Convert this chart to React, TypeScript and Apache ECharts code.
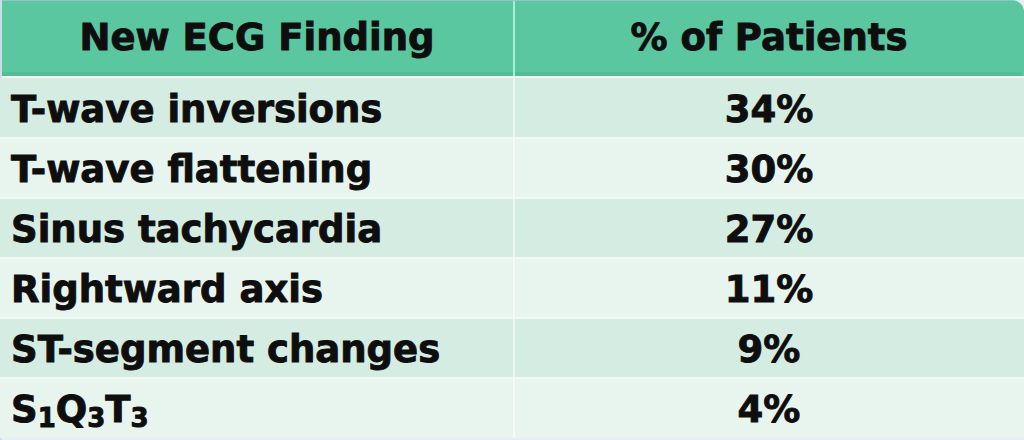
import React, { useEffect, useRef } from 'react';
import * as echarts from 'echarts';

const HEADERS = ['New ECG Finding', '% of Patients'];
const FINDINGS = [
  'T-wave inversions',
  'T-wave flattening',
  'Sinus tachycardia',
  'Rightward axis',
  'ST-segment changes',
  'S1Q3T3',
];
const PERCENTS = [34, 30, 27, 11, 9, 4];

const FONT = '"DejaVu Sans", Verdana, sans-serif';
const W = 1024;
const H = 440;
const HEADER_H = 76;
const COL_SPLIT = 514 / W;
const TEXT = '#0e0e0e';
const HEAD_FILL = '#5bc7a1';
const ROW_DARK = '#d4ece2';
const ROW_LIGHT = '#e8f5ef';
const STROKE = { stroke: TEXT, lineWidth: 0.9 };

function richLabel(label: string): string {
  if (/^([A-Z]\d)+$/.test(label)) {
    return label.replace(/([A-Z])(\d)/g, '{b|$1}{s|$2}');
  }
  return label;
}

const RICH = {
  b: { fontSize: 37, fontWeight: 'bold', fontFamily: FONT, fill: TEXT, ...STROKE, lineHeight: 44, verticalAlign: 'middle' },
  s: { fontSize: 26, fontWeight: 'bold', fontFamily: FONT, fill: TEXT, ...STROKE, lineHeight: 13, verticalAlign: 'bottom' },
};

const textStyle = (text: string, align: string) => ({
  text,
  fontSize: 37,
  fontWeight: 'bold',
  fontFamily: FONT,
  fill: TEXT,
  ...STROKE,
  align,
  verticalAlign: 'middle',
});

export default function App() {
  const ref = useRef<HTMLDivElement>(null);

  useEffect(() => {
    document.body.style.margin = '0';
    if (!ref.current) return;
    const chart = echarts.init(ref.current, null, { renderer: 'svg' });
    const option: any = {
      animation: false,
      backgroundColor: '#e6eff3',
      grid: { left: 0, right: 0, top: HEADER_H + 2, bottom: 2, containLabel: false },
      xAxis: { type: 'value', min: 0, max: 1, show: false },
      yAxis: { type: 'category', data: FINDINGS, inverse: true, show: false },
      graphic: [
        { type: 'rect', shape: { x: 0, y: 0, width: W, height: HEADER_H, r: [0, 12, 0, 0] }, style: { fill: HEAD_FILL } },
        { type: 'rect', shape: { x: 0, y: HEADER_H - 4, width: W - 2, height: 4 }, style: { fill: '#53bd96' } },
        { type: 'rect', shape: { x: 0, y: HEADER_H, width: W, height: 2 }, style: { fill: '#f2fbf8' } },
        { type: 'rect', shape: { x: W * COL_SPLIT - 1, y: 0, width: 2, height: HEADER_H }, style: { fill: '#a6eed7' } },
        { type: 'rect', shape: { x: 0, y: 0, width: W - 10, height: 1 }, style: { fill: '#9cbfcc' } },
        { type: 'rect', shape: { x: 0, y: 0, width: 2, height: H }, style: { fill: '#cddcec' } },
        { type: 'text', x: (W * COL_SPLIT) / 2, y: HEADER_H / 2 - 1, style: textStyle(HEADERS[0], 'center') },
        { type: 'text', x: (W * COL_SPLIT + W) / 2, y: HEADER_H / 2 - 1, style: textStyle(HEADERS[1], 'center') },
      ],
      series: [
        {
          type: 'custom',
          encode: { x: 0, y: 1 },
          data: FINDINGS.map((f, i) => [0, i, PERCENTS[i]]),
          renderItem: (params: any, api: any) => {
            const idx = api.value(1);
            const pct = api.value(2);
            const [x0, yc] = api.coord([0, idx]);
            const [x1] = api.coord([1, idx]);
            const [xs] = api.coord([COL_SPLIT, idx]);
            const h = api.size([0, 1])[1];
            const top = yc - h / 2;
            const label = richLabel(FINDINGS[idx]);
            const children: any[] = [
              { type: 'rect', shape: { x: x0, y: top, width: x1 - x0, height: h }, style: { fill: idx % 2 === 0 ? ROW_DARK : ROW_LIGHT } },
              { type: 'rect', shape: { x: xs - 1, y: top, width: 2, height: h }, style: { fill: 'rgba(255,255,255,0.55)' } },
              {
                type: 'text',
                x: x0 + 11,
                y: yc + 1,
                style: { ...textStyle(label, 'left'), rich: RICH },
              },
              {
                type: 'text',
                x: (xs + x1) / 2,
                y: yc + 1,
                style: textStyle(pct + '%', 'center'),
              },
            ];
            if (idx > 0) {
              children.push({ type: 'rect', shape: { x: x0, y: top - 1, width: x1 - x0, height: 2 }, style: { fill: 'rgba(245,252,249,0.8)' } });
            }
            return { type: 'group', children };
          },
        },
      ],
    };
    chart.setOption(option);
    return () => chart.dispose();
  }, []);

  return <div ref={ref} style={{ width: W, height: H }} />;
}
